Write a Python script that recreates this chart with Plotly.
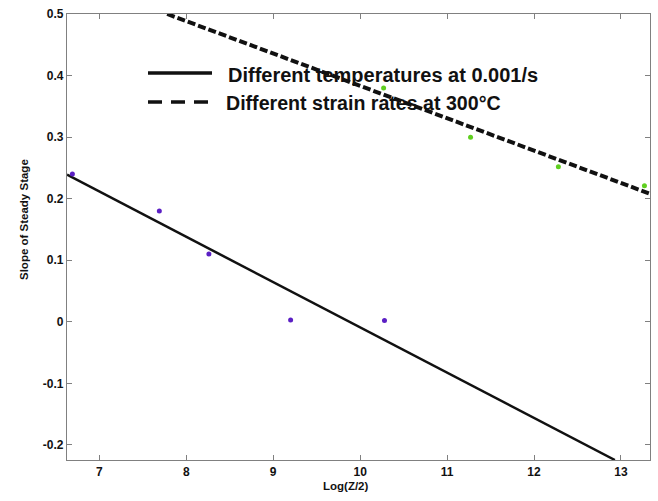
import plotly.graph_objects as go

# Measured points: different temperatures at 0.001/s
temp_x = [6.69, 7.69, 8.26, 9.20, 10.28]
temp_y = [0.240, 0.180, 0.110, 0.003, 0.002]

# Measured points: different strain rates at 300 °C
rate_x = [10.27, 11.27, 12.28, 13.27]
rate_y = [0.380, 0.300, 0.252, 0.221]

# Linear fits (end points)
temp_fit_x = [6.628, 12.93]
temp_fit_y = [0.239, -0.2244]
rate_fit_x = [7.78, 13.334]
rate_fit_y = [0.500, 0.208]

x_ticks = [7, 8, 9, 10, 11, 12, 13]
y_ticks = [-0.2, -0.1, 0, 0.1, 0.2, 0.3, 0.4, 0.5]
y_tick_text = ["-0.2", "-0.1", "0", "0.1", "0.2", "0.3", "0.4", "0.5"]

legend_labels = ["Different temperatures at 0.001/s", "Different strain rates at 300°C"]

FONT = "Liberation Sans, Arial, sans-serif"

fig = go.Figure()
fig.add_trace(go.Scatter(x=temp_fit_x, y=temp_fit_y, mode="lines",
                         line=dict(color="#111111", width=2.5), showlegend=False))
fig.add_trace(go.Scatter(x=rate_fit_x, y=rate_fit_y, mode="lines",
                         line=dict(color="#111111", width=4, dash="8px,3px"), showlegend=False))
fig.add_trace(go.Scatter(x=temp_x, y=temp_y, mode="markers",
                         marker=dict(color="#5b1fc4", size=5), showlegend=False))
fig.add_trace(go.Scatter(x=rate_x, y=rate_y, mode="markers",
                         marker=dict(color="#5fcf1f", size=5), showlegend=False))

L, R, T, B = 67, 8, 14, 41
W, H = 658, 501
pw, ph = W - L - R, H - T - B


def px_x(x):
    return (x - L) / pw


def px_y(y):
    return (H - B - y) / ph


# Legend drawn inside the plot area
shapes = [
    dict(type="line", xref="paper", yref="paper", x0=px_x(148), x1=px_x(212),
         y0=px_y(73), y1=px_y(73), line=dict(color="#111111", width=3.5)),
    dict(type="line", xref="paper", yref="paper", x0=px_x(148), x1=px_x(210),
         y0=px_y(102), y1=px_y(102), line=dict(color="#111111", width=3.5, dash="14px,9px")),
]
annotations = [
    dict(xref="paper", yref="paper", x=px_x(226), y=px_y(75), xanchor="left", yanchor="middle",
         text="<b>" + legend_labels[0] + "</b>", showarrow=False,
         font=dict(family=FONT, size=20, color="#111111")),
    dict(xref="paper", yref="paper", x=px_x(224), y=px_y(103), xanchor="left", yanchor="middle",
         text="<b>" + legend_labels[1] + "</b>", showarrow=False,
         font=dict(family=FONT, size=19.6, color="#111111")),
    dict(xref="paper", yref="paper", x=px_x(346), y=px_y(486), xanchor="center", yanchor="middle",
         text="<b>Log(Z/2)</b>", showarrow=False,
         font=dict(family=FONT, size=11.5, color="#111111")),
    dict(xref="paper", yref="paper", x=px_x(24), y=px_y(220), xanchor="center", yanchor="middle",
         text="<b>Slope of Steady Stage</b>", showarrow=False, textangle=-90,
         font=dict(family=FONT, size=11.5, color="#111111")),
]

axis_common = dict(showgrid=False, zeroline=False, showline=True, linecolor="#808080",
                   linewidth=1.2, mirror="ticks", ticks="inside", ticklen=5,
                   tickcolor="#808080", tickfont=dict(family=FONT, size=12, color="#111111"))

fig.update_layout(
    width=W, height=H,
    margin=dict(l=L, r=R, t=T, b=B),
    paper_bgcolor="white", plot_bgcolor="white",
    xaxis=dict(range=[6.628, 13.334], tickvals=x_ticks,
               ticktext=["<b>%d</b>" % v for v in x_ticks], **axis_common),
    yaxis=dict(range=[-0.2244, 0.5], tickvals=y_ticks,
               ticktext=["<b>%s</b>" % t for t in y_tick_text], **axis_common),
    shapes=shapes,
    annotations=annotations,
    showlegend=False,
)

fig.write_html("out.html")
